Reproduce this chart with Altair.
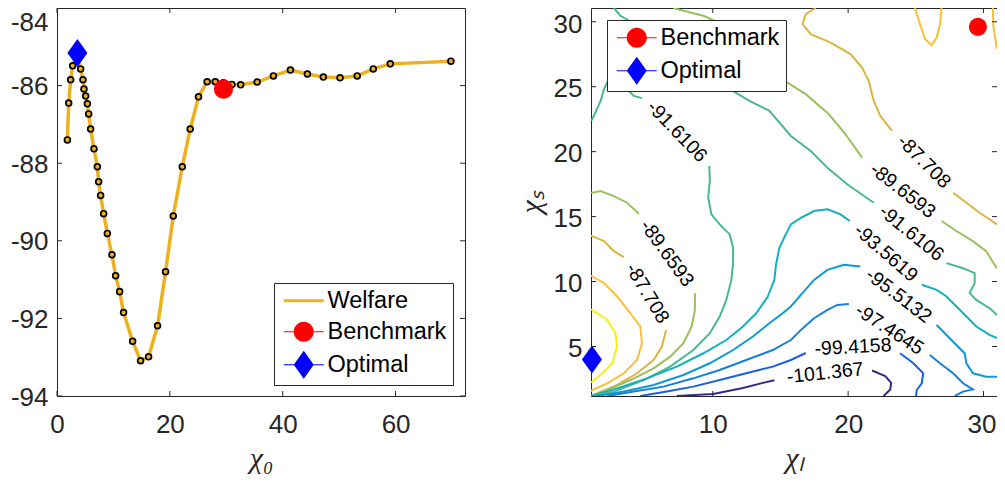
import altair as alt
import pandas as pd

# ---------------- left panel: welfare as a function of chi_0 ----------------
chi0 = [1.84, 2.07, 2.42, 2.78, 3.5, 4.19, 4.6, 4.78, 5.08, 5.38, 5.61, 5.96, 6.55, 7.15, 7.38,
        7.73, 8.27, 8.92, 9.74, 10.39, 11.1, 11.8, 13.4, 14.81, 16.23, 17.82, 19.24, 20.6, 22.2,
        23.6, 25.08, 26.6, 28.05, 29.5, 31.0, 32.55, 35.47, 38.35, 41.36, 44.37, 47.2, 50.16,
        53.2, 56.05, 59.06, 69.8]
welfare = [-87.40, -86.45, -85.85, -85.49, -85.22, -85.57, -85.85, -86.09, -86.27, -86.47, -86.73,
           -87.12, -87.63, -88.09, -88.48, -88.83, -89.30, -89.81, -90.36, -90.90, -91.31, -91.85,
           -92.59, -93.09, -92.99, -92.19, -90.80, -89.36, -88.09, -87.12, -86.29, -85.90, -85.90,
           -85.93, -85.97, -85.98, -85.91, -85.75, -85.60, -85.70, -85.78, -85.80, -85.75, -85.57,
           -85.44, -85.37]
bench_left_x = [29.5]
bench_left_y = [-86.09]
opt_left_x = [3.62]
opt_left_y = [-85.16]

left_xticks = [0, 20, 40, 60]
left_yticks = [-94, -92, -90, -88, -86, -84]

# ---------------- right panel: contour of welfare over (chi_l, chi_s) ----------------
c838 = [(1.0, 7.85), (1.1, 7.82), (2.2, 7.05), (2.81, 6.02), (2.93, 5.0), (2.57, 3.71),
        (1.83, 2.94), (1.1, 2.3), (1.0, 2.25)]
c858_left = [(1.0, 10.45), (1.1, 10.39), (1.96, 9.88), (2.93, 8.85), (3.91, 7.56), (4.64, 6.54),
             (4.77, 5.25), (4.4, 3.96), (3.43, 2.94), (2.2, 2.17), (1.1, 1.65), (1.0, 1.55)]
c858_top = [(24.94, 31.06), (25.31, 29.82), (25.68, 28.67), (26.17, 28.2), (26.54, 28.79),
            (26.79, 29.82), (26.9, 31.06)]
c858_right = [(30.69, 31.06), (30.74, 29.56), (31.0, 27.9)]
c877_left_a = [(1.0, 13.55), (1.08, 13.5), (1.96, 13.12), (2.69, 12.34), (3.43, 11.88)]
c877_left_b = [(6.55, 6.28), (6.24, 5.0), (5.63, 3.96), (4.4, 2.94), (2.93, 2.04), (1.47, 1.4),
               (1.0, 1.19)]
c877_top_a = [(17.61, 31.06), (16.87, 30.59), (16.63, 29.82), (17.24, 29.05), (18.71, 28.4),
              (20.18, 27.51), (21.03, 26.48), (21.52, 25.45), (21.89, 23.91), (22.38, 22.75),
              (23.24, 21.6)]
c877_top_b = [(27.76, 16.84), (28.74, 16.07), (29.71, 15.3), (30.45, 14.79), (31.0, 14.4)]
c897_left_a = [(1.0, 16.85), (1.1, 16.84), (1.71, 16.97), (2.69, 16.58), (3.67, 16.07),
               (4.53, 15.22)]
c897_left_b = [(8.68, 9.1), (8.68, 7.82), (8.44, 6.54), (7.83, 5.25), (6.85, 4.22), (5.63, 3.32),
               (3.91, 2.42), (2.2, 1.65), (1.0, 1.19)]
c897_top_a = [(7.09, 31.06), (7.83, 30.85), (9.3, 30.46), (10.27, 30.02), (12.0, 28.5),
              (15.09, 25.58), (16.87, 24.43), (18.58, 22.88), (19.81, 21.34), (21.03, 19.54)]
c897_top_b = [(26.9, 14.66), (28.0, 13.89), (29.22, 13.11), (30.2, 12.34), (30.81, 11.31),
              (31.0, 11.0)]
c916_top = [(2.69, 31.06), (3.18, 30.46), (3.91, 30.02), (6.0, 28.0), (9.0, 26.0), (11.25, 24.81),
            (12.71, 23.91), (14.18, 23.14), (15.77, 21.21), (17.24, 20.05), (18.47, 18.77),
            (19.93, 17.49), (21.89, 16.07)]
c916_right = [(27.27, 11.42), (28.49, 11.03), (29.35, 10.65), (29.35, 9.88), (28.98, 9.11),
              (29.47, 8.59), (30.45, 7.95), (31.0, 7.43)]
c916_edge = [(1.0, 22.4), (1.1, 22.5), (1.71, 23.9), (1.96, 24.81), (2.5, 26.0), (3.5, 25.5),
             (3.67, 24.81), (4.16, 24.29), (4.77, 24.12)]
c916_mid = [(9.74, 18.9), (9.78, 17.74), (9.66, 16.45), (9.9, 15.17), (10.51, 14.4), (11.25, 13.63),
            (11.5, 12.6), (11.5, 11.42), (11.37, 10.13), (11.0, 8.59), (10.51, 7.31), (9.78, 6.02),
            (8.56, 4.73), (6.85, 3.45), (4.89, 2.42), (2.69, 1.53), (1.22, 1.19)]
c936_a = [(20.12, 14.66), (19.44, 15.17), (18.47, 15.56), (17.48, 15.43), (16.51, 14.91),
          (15.77, 14.4), (15.39, 13.63), (14.92, 12.6), (14.67, 11.3), (14.55, 10.13),
          (14.06, 8.85), (13.21, 7.56), (12.23, 6.54), (11.0, 5.5), (9.3, 4.48), (7.34, 3.45),
          (5.13, 2.55), (2.93, 1.78), (1.22, 1.26), (1.0, 1.19)]
c936_b = [(25.44, 9.75), (26.54, 9.36), (27.27, 8.85), (28.0, 8.08), (28.74, 7.31), (29.47, 6.54),
          (30.45, 5.89), (31.0, 5.64)]
c955_a = [(20.9, 11.16), (19.68, 11.29), (18.47, 10.9), (17.48, 10.13), (16.51, 8.97),
          (15.77, 8.08), (15.16, 7.56), (14.18, 6.79), (12.96, 5.77), (11.5, 4.73), (9.78, 3.71),
          (7.83, 2.81), (5.63, 2.04), (3.43, 1.53), (1.47, 1.19)]
c955_b = [(26.54, 6.66), (27.27, 5.89), (28.0, 5.12), (28.61, 4.48), (28.74, 3.71), (29.22, 2.94),
          (30.2, 2.68), (31.0, 2.68)]
c975_a = [(20.05, 8.28), (19.2, 8.2), (18.47, 7.82), (17.48, 7.18), (16.51, 6.28), (15.77, 5.5),
          (14.43, 4.73), (12.47, 3.96), (10.51, 3.19), (8.56, 2.55), (6.36, 1.91), (4.16, 1.53),
          (2.2, 1.19)]
c975_b = [(26.04, 4.35), (26.78, 3.71), (27.76, 2.94), (28.49, 2.17), (29.22, 1.7), (28.49, 1.53),
          (27.88, 1.19)]
c994_a = [(16.87, 4.5), (15.77, 3.96), (14.43, 3.45), (12.47, 2.94), (10.51, 2.42), (8.56, 1.91),
          (6.6, 1.53), (4.64, 1.19)]
c994_b = [(23.84, 4.48), (24.82, 3.71), (25.55, 2.94), (25.44, 2.17), (25.07, 1.65), (25.02, 1.19)]
c1014_a = [(7.34, 1.19), (10.03, 1.35), (12.23, 1.81), (13.7, 2.2), (14.55, 2.41)]
c1014_b = [(21.77, 3.15), (22.74, 2.72), (23.18, 2.2), (23.11, 1.69), (22.62, 1.19)]

contour_segments = [
    ("-83.8054", c838), ("-85.7567", c858_left), ("-85.7567", c858_top), ("-85.7567", c858_right),
    ("-87.708", c877_left_a), ("-87.708", c877_left_b), ("-87.708", c877_top_a), ("-87.708", c877_top_b),
    ("-89.6593", c897_left_a), ("-89.6593", c897_left_b), ("-89.6593", c897_top_a), ("-89.6593", c897_top_b),
    ("-91.6106", c916_top), ("-91.6106", c916_right), ("-91.6106", c916_edge), ("-91.6106", c916_mid),
    ("-93.5619", c936_a), ("-93.5619", c936_b), ("-95.5132", c955_a), ("-95.5132", c955_b),
    ("-97.4645", c975_a), ("-97.4645", c975_b), ("-99.4158", c994_a), ("-99.4158", c994_b),
    ("-101.367", c1014_a), ("-101.367", c1014_b),
]
level_colors = {
    "-101.367": "#352a87", "-99.4158": "#1960e0", "-97.4645": "#1580d8", "-95.5132": "#0d9ad0",
    "-93.5619": "#10b0c0", "-91.6106": "#48b98e", "-89.6593": "#9cbf5c", "-87.708": "#dbb544",
    "-85.7567": "#fbbf35", "-83.8054": "#f6f01a",
}

lab_text = ["-91.6106", "-89.6593", "-87.708", "-87.708", "-89.6593", "-91.6106", "-93.5619",
            "-95.5132", "-97.4645", "-99.4158", "-101.367"]
lab_x = [7.35, 6.6, 5.15, 25.6, 24.03, 24.67, 22.78, 23.72, 23.05, 20.36, 18.3]
lab_y = [21.55, 12.17, 9.1, 19.23, 17.0, 13.73, 12.2, 8.91, 6.31, 4.95, 2.95]
lab_ang = [46, 54, 59, 45, 38, 39, 41, 37, 33, 357, 354]

bench_right_x = [29.59]
bench_right_y = [29.61]
opt_right_x = [1.07]
opt_right_y = [4.0]

right_xticks = [10, 20, 30]
right_yticks = [5, 10, 15, 20, 25, 30]

# ---------------- styling ----------------
AX = "#262626"
FONT = "Liberation Sans"
WL, WR, H = 408, 406, 388
ORANGE = "#EDB120"
DIAMOND = "M0,-1.4L1,0L0,1.4L-1,0Z"
P_WELF = "M-2,-0.15L2,-0.15L2,0.15L-2,0.15Z"
P_BENCH = "M-2,-0.05L2,-0.05L2,0.05L-2,0.05Z M1,0A1,1,0,1,1,-1,0A1,1,0,1,1,1,0Z"
P_OPT = "M-2,-0.05L2,-0.05L2,0.05L-2,0.05Z M0,-1.4L1,0L0,1.4L-1,0Z"


def tick_layers(xticks, yticks, xsc, ysc, axx, axy, w):
    xt = pd.DataFrame({"t": xticks})
    yt = pd.DataFrame({"t": yticks})
    st = dict(color=AX, strokeWidth=1)
    return [
        alt.Chart(xt).mark_rule(**st).encode(x=alt.X("t:Q", scale=xsc, axis=axx), y=alt.value(H), y2=alt.value(H - 5)),
        alt.Chart(xt).mark_rule(**st).encode(x=alt.X("t:Q", scale=xsc, axis=axx), y=alt.value(0), y2=alt.value(5)),
        alt.Chart(yt).mark_rule(**st).encode(y=alt.Y("t:Q", scale=ysc, axis=axy), x=alt.value(0), x2=alt.value(5)),
        alt.Chart(yt).mark_rule(**st).encode(y=alt.Y("t:Q", scale=ysc, axis=axy), x=alt.value(w), x2=alt.value(w - 5)),
    ]


def legend_layer(names, colors, paths, lx, ly):
    leg = alt.Legend(orient="none", legendX=lx, legendY=ly, title=None, fillColor="white",
                     strokeColor=AX, padding=6, symbolSize=400, symbolOffset=12, labelOffset=12,
                     labelFont=FONT, labelFontSize=23.5, labelColor="black", rowPadding=6,
                     symbolStrokeWidth=0, labelLimit=300)
    empty = pd.DataFrame({"series": pd.Series([], dtype=str)})
    return alt.Chart(empty).mark_point(filled=True, opacity=1).encode(
        color=alt.Color("series:N", scale=alt.Scale(domain=names, range=colors), legend=leg),
        shape=alt.Shape("series:N", scale=alt.Scale(domain=names, range=paths), legend=leg),
    )


# ---------------- left chart ----------------
xs_l = alt.Scale(domain=[0, 72.3], nice=False, zero=False)
ys_l = alt.Scale(domain=[-94, -84], nice=False, zero=False)
df_w = pd.DataFrame({"chi0": chi0, "w": welfare, "i": list(range(len(chi0)))})

ax_xl = alt.Axis(values=left_xticks, title="χ₀", labelPadding=15, titlePadding=6,
                 labelExpr="datum.value + ''")
ax_yl = alt.Axis(values=left_yticks, title="", labelPadding=9, labelExpr="datum.value + ''",
                 labelOffset={"condition": {"test": "datum.value == -84", "value": 14}, "value": 1})

def xl(f):
    return alt.X(f, scale=xs_l, axis=ax_xl)

def yl(f):
    return alt.Y(f, scale=ys_l, axis=ax_yl)

line_l = alt.Chart(df_w).mark_line(color=ORANGE, strokeWidth=3.5).encode(
    x=xl("chi0:Q"), y=yl("w:Q"), order="i:Q")
pts_l = alt.Chart(df_w).mark_circle(fill=ORANGE, stroke="black", strokeWidth=1.7, size=34, opacity=1).encode(
    x=xl("chi0:Q"), y=yl("w:Q"))
bench_l = alt.Chart(pd.DataFrame({"chi0": bench_left_x, "w": bench_left_y})).mark_circle(
    color="#FF0000", size=370, opacity=1).encode(x=xl("chi0:Q"), y=yl("w:Q"))
opt_l = alt.Chart(pd.DataFrame({"chi0": opt_left_x, "w": opt_left_y})).mark_point(
    shape=DIAMOND, filled=True, color="#0000FF", size=400, opacity=1).encode(x=xl("chi0:Q"), y=yl("w:Q"))

left = alt.layer(
    line_l, pts_l, bench_l, opt_l,
    *tick_layers(left_xticks, left_yticks, xs_l, ys_l, ax_xl, ax_yl, WL),
    legend_layer(["Welfare", "Benchmark", "Optimal"], [ORANGE, "#FF0000", "#0000FF"],
                 [P_WELF, P_BENCH, P_OPT], 217, 275),
).properties(width=WL, height=H)

# ---------------- right chart ----------------
xs_r = alt.Scale(domain=[1, 31], nice=False, zero=False)
ys_r = alt.Scale(domain=[1.19, 31.06], nice=False, zero=False)

rows = []
for sid, (lvl, pts) in enumerate(contour_segments):
    for k, (px, py) in enumerate(pts):
        rows.append({"seg": sid, "k": k, "x": px, "y": py, "col": level_colors[lvl]})
df_c = pd.DataFrame(rows)

ax_xr = alt.Axis(values=right_xticks, title="χₗ", labelPadding=15, titlePadding=6,
                 labelExpr="datum.value + ''",
                 labelOffset={"condition": {"test": "datum.value == 30", "value": -2}, "value": 0})
ax_yr = alt.Axis(values=right_yticks, title="χₛ", labelPadding=9, titlePadding=7,
                 labelExpr="datum.value + ''",
                 labelOffset={"condition": {"test": "datum.value == 30", "value": 3}, "value": 2})

def xr(f):
    return alt.X(f, scale=xs_r, axis=ax_xr)

def yr(f):
    return alt.Y(f, scale=ys_r, axis=ax_yr)

cont = alt.Chart(df_c).mark_line(strokeWidth=2, clip=True).encode(
    x=xr("x:Q"), y=yr("y:Q"), detail="seg:N", order="k:Q", stroke=alt.Stroke("col:N", scale=None))
labels = alt.Chart(pd.DataFrame({"t": lab_text, "x": lab_x, "y": lab_y, "a": lab_ang})).mark_text(
    font=FONT, fontSize=19.5, color="black", align="center", baseline="middle").encode(
    x=xr("x:Q"), y=yr("y:Q"), text="t:N", angle=alt.Angle("a:Q", scale=None))
bench_r = alt.Chart(pd.DataFrame({"x": bench_right_x, "y": bench_right_y})).mark_circle(
    color="#FF0000", size=330, opacity=1).encode(x=xr("x:Q"), y=yr("y:Q"))
opt_r = alt.Chart(pd.DataFrame({"x": opt_right_x, "y": opt_right_y})).mark_point(
    shape=DIAMOND, filled=True, color="#0000FF", size=400, opacity=1).encode(x=xr("x:Q"), y=yr("y:Q"))

right = alt.layer(
    cont, labels, bench_r, opt_r,
    *tick_layers(right_xticks, right_yticks, xs_r, ys_r, ax_xr, ax_yr, WR),
    legend_layer(["Benchmark", "Optimal"], ["#FF0000", "#0000FF"], [P_BENCH, P_OPT], 16, 12),
).properties(width=WR, height=H)

chart = alt.hconcat(left, right, spacing=126, bounds="flush").resolve_scale(
    x="independent", y="independent", color="independent", shape="independent"
).resolve_legend(color="independent", shape="independent").properties(
    autosize=alt.AutoSizeParams(type="none"),
    padding={"left": 49, "top": 0, "right": 940, "bottom": 464},
).configure_axis(
    labelFont=FONT, labelFontSize=26, labelColor=AX, titleFont="Liberation Serif",
    titleFontSize=30, titleFontWeight="normal", titleFontStyle="italic", titleColor=AX,
    labelFlush=False, grid=False, ticks=False, domain=False,
).configure_view(stroke=AX, strokeWidth=1)

chart.save("out.html", embed_options={"renderer": "svg", "actions": False})
